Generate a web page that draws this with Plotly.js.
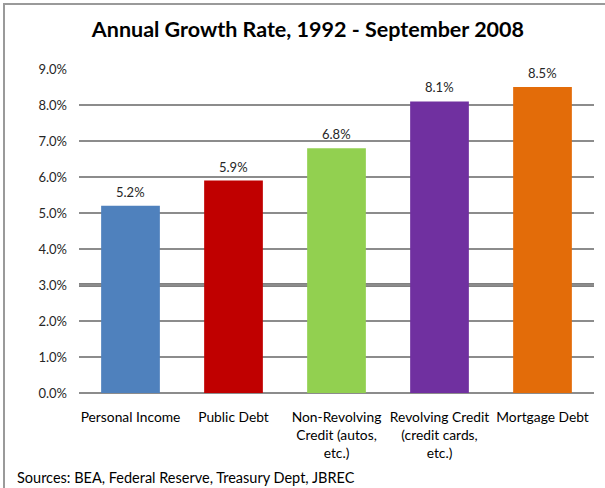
<!DOCTYPE html>
<html>
<head>
<meta charset="utf-8">
<script src="https://cdn.plot.ly/plotly-3.0.1.min.js"></script>
<style>
html,body{margin:0;padding:0;background:#fff;}
#wrap{position:relative;width:605px;height:488px;overflow:hidden;}
#chart{width:605px;height:488px;}
#frame{position:absolute;left:3px;top:3px;width:700px;height:600px;border-left:2px solid #9a9a9a;border-top:2px solid #9a9a9a;pointer-events:none;}
</style>
</head>
<body>
<div id="wrap"><div id="chart"></div><div id="frame"></div></div>
<script>
const categories = ["Personal Income", "Public Debt", "Non-Revolving<br>Credit (autos,<br>etc.)", "Revolving Credit<br>(credit cards,<br>etc.)", "Mortgage Debt"];
const growthRates = [5.2, 5.9, 6.8, 8.1, 8.5];
const barLabels = ["5.2%", "5.9%", "6.8%", "8.1%", "8.5%"];
const barColors = ["#4F81BD", "#C00000", "#92D050", "#7030A0", "#E36C09"];
const tickValues = [0, 1, 2, 3, 4, 5, 6, 7, 8, 9];
const tickLabels = ["0.0%", "1.0%", "2.0%", "3.0%", "4.0%", "5.0%", "6.0%", "7.0%", "8.0%", "9.0%"];
const highlightLevel = 3;
const titleText = "Annual Growth Rate, 1992 - September 2008";
const sourceText = "Sources: BEA, Federal Reserve, Treasury Dept, JBREC";

const font = "Lato, 'Open Sans', sans-serif";

const trace = {
  type: "bar",
  x: categories,
  y: growthRates,
  marker: {color: barColors, line: {width: 0}},
  hoverinfo: "none"
};

const annotations = categories.map((c, i) => ({
  x: c, y: growthRates[i], xref: "x", yref: "y",
  text: barLabels[i], showarrow: false,
  yanchor: "bottom", yshift: 4,
  font: {family: font, size: 13, color: "#262626"}
}));
annotations.push({
  xref: "paper", yref: "paper", x: -0.124, y: -0.26,
  xanchor: "left", yanchor: "middle",
  text: sourceText, showarrow: false,
  font: {family: font, size: 14.5, color: "#000"}
});

const layout = {
  width: 605, height: 488,
  margin: {l: 79, r: 11, t: 69, b: 94.5, pad: 0},
  paper_bgcolor: "#fff", plot_bgcolor: "#fff",
  showlegend: false,
  bargap: 0.43,
  title: {text: "<b>" + titleText + "</b>", x: 0.509, xanchor: "center", y: 0.939, yanchor: "middle",
          font: {family: font, size: 21.5, color: "#000"}},
  xaxis: {
    type: "category", showgrid: false, zeroline: false, showline: false,
    ticks: "", ticklabelstandoff: 14, tickfont: {family: font, size: 13.8, color: "#000"},
    automargin: false, tickangle: 0
  },
  yaxis: {
    range: [0, 9], tickvals: tickValues, ticktext: tickLabels,
    showgrid: true, gridcolor: "#8c8c8c", gridwidth: 1.6,
    zeroline: true, zerolinecolor: "#8c8c8c", zerolinewidth: 2,
    showline: false, ticks: "", ticklabelstandoff: 11,
    tickfont: {family: font, size: 13, color: "#262626"},
    automargin: false, fixedrange: true
  },
  shapes: [{
    type: "line", xref: "paper", yref: "y", x0: 0, x1: 1, y0: highlightLevel, y1: highlightLevel,
    line: {color: "#808080", width: 4}, layer: "below"
  }],
  annotations: annotations
};

Plotly.newPlot("chart", [trace], layout, {displayModeBar: false, staticPlot: true});
</script>
</body>
</html>
